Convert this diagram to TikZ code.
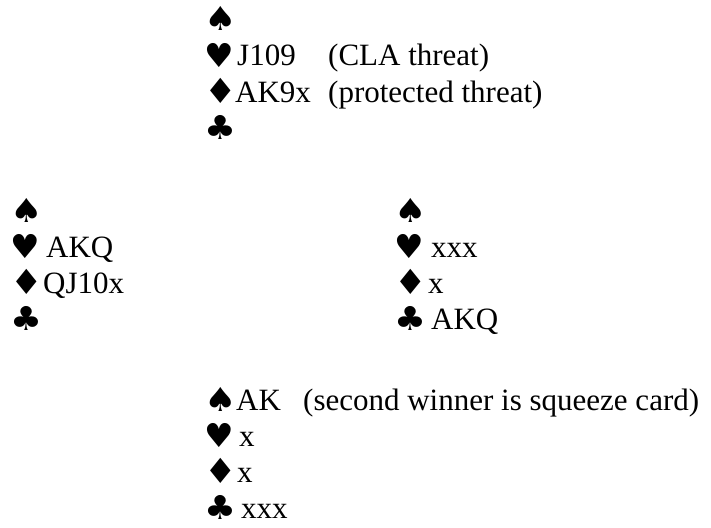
\documentclass[tikz,border=0pt]{standalone}
\usepackage{fontspec}
\setmainfont{Liberation Serif}
\newfontfamily\suitfont{DejaVu Sans}
\newcommand{\spd}{\scalebox{1.1}[1]{♠}}
\newcommand{\hrt}{♥}
\newcommand{\dmd}{\scalebox{1.1}[1.05]{♦}}
\newcommand{\clb}{\scalebox{1.08}[1]{♣}}
\begin{document}
\begin{tikzpicture}[x=1pt,y=-1pt,
  txt/.style={anchor=base west,inner sep=0pt,font=\fontsize{31}{36}\selectfont},
  suit/.style={anchor=base west,inner sep=0pt,font=\suitfont\fontsize{33}{36}\selectfont}]
\useasboundingbox (0,0) rectangle (711,527);
% North
\node[suit] (ns) at (204,31) {\spd};
\node[suit] (nh) at (204,67) {\hrt};
\node[suit] (nd) at (204,103) {\dmd};
\node[suit] (nc) at (204,139) {\clb};
\node[txt] (nht) at (237,66) {J109};
\node[txt] (nhc) at (328,66) {(CLA threat)};
\node[txt] (ndt) at (235,102) {AK9x};
\node[txt] (ndc) at (328,102) {(protected threat)};
% West
\node[suit] (ws) at (10,222) {\spd};
\node[suit] (wh) at (10,258) {\hrt};
\node[suit] (wd) at (10,294) {\dmd};
\node[suit] (wc) at (10,330) {\clb};
\node[txt] (wht) at (46,257) {AKQ};
\node[txt] (wdt) at (43,293) {QJ10x};
% East
\node[suit] (es) at (394,222) {\spd};
\node[suit] (eh) at (394,258) {\hrt};
\node[suit] (ed) at (394,294) {\dmd};
\node[suit] (ec) at (394,330) {\clb};
\node[txt] (eht) at (431,257) {xxx};
\node[txt] (edt) at (428,293) {x};
\node[txt] (ect) at (431,329) {AKQ};
% South
\node[suit] (ss) at (204,411) {\spd};
\node[suit] (sh) at (204,447) {\hrt};
\node[suit] (sd) at (204,483) {\dmd};
\node[suit] (sc) at (204,519) {\clb};
\node[txt] (sst) at (236,410) {AK};
\node[txt] (ssc) at (303,410) {(second winner is squeeze card)};
\node[txt] (sht) at (239,446) {x};
\node[txt] (sdt) at (237,482) {x};
\node[txt] (sct) at (241,518) {xxx};
\end{tikzpicture}
\end{document}
